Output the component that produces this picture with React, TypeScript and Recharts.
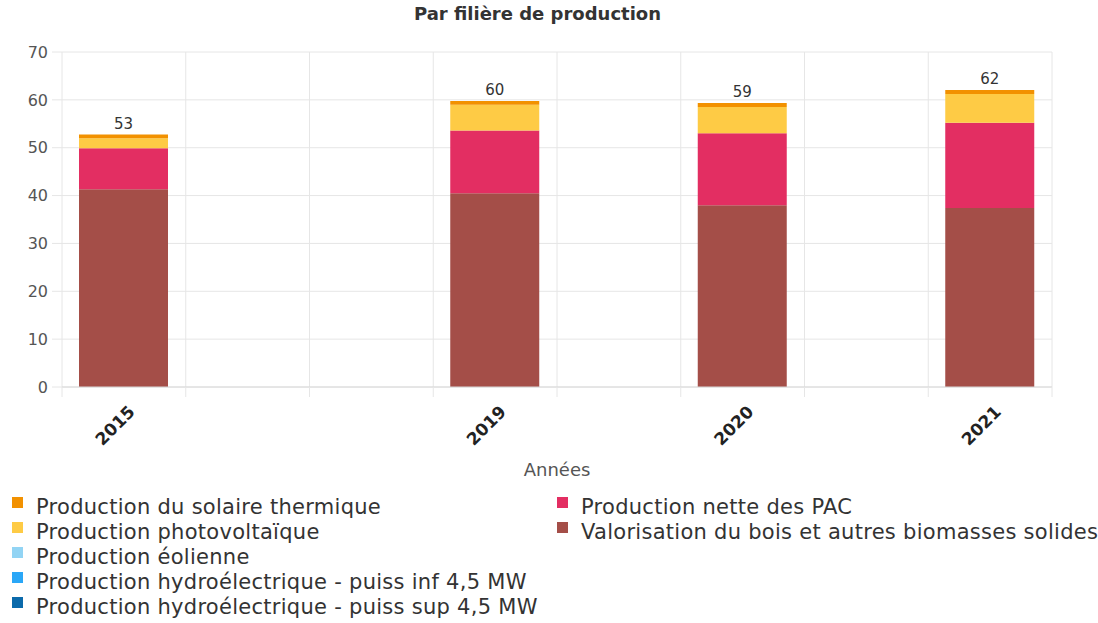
import React from 'react';
import { BarChart, Bar, XAxis, YAxis, CartesianGrid, LabelList } from 'recharts';

const categories = ['2015', '', '', '2019', '', '2020', '', '2021'];
const biomasse = [41.3, null, null, 40.5, null, 38.0, null, 37.4];
const pac = [8.6, null, null, 13.1, null, 15.0, null, 17.8];
const hydroSup = [0, null, null, 0, null, 0, null, 0];
const hydroInf = [0, null, null, 0, null, 0, null, 0];
const eolien = [0, null, null, 0, null, 0, null, 0];
const photovoltaique = [2.1, null, null, 5.4, null, 5.5, null, 6.0];
const solaireThermique = [0.75, null, null, 0.77, null, 0.84, null, 0.84];
const yTicks = [0, 10, 20, 30, 40, 50, 60, 70];

const series = [
  { key: 'biomasse', name: 'Valorisation du bois et autres biomasses solides', color: '#a44e48', values: biomasse },
  { key: 'pac', name: 'Production nette des PAC', color: '#e32e62', values: pac },
  { key: 'hydroSup', name: 'Production hydroélectrique - puiss sup 4,5 MW', color: '#0b6aab', values: hydroSup },
  { key: 'hydroInf', name: 'Production hydroélectrique - puiss inf 4,5 MW', color: '#2aa7f7', values: hydroInf },
  { key: 'eolien', name: 'Production éolienne', color: '#92d4f4', values: eolien },
  { key: 'pv', name: 'Production photovoltaïque', color: '#fecb45', values: photovoltaique },
  { key: 'thermique', name: 'Production du solaire thermique', color: '#f29100', values: solaireThermique },
];

const legendOrder = ['thermique', 'pv', 'eolien', 'hydroInf', 'hydroSup', 'pac', 'biomasse'];

const data = categories.map((c, i) => {
  const row: any = { idx: i, year: c };
  let sum = 0;
  let has = false;
  series.forEach((s) => {
    row[s.key] = s.values[i];
    if (s.values[i] != null) {
      sum += s.values[i] as number;
      has = true;
    }
  });
  row.total = has ? Math.round(sum) : null;
  return row;
});

const FONT = "'DejaVu Sans', sans-serif";
const CW = 1098;
const CH = 480;
const M = { top: 52, right: 46, left: 0, bottom: 33 };
const YW = 62;
const XH = 60;
const PLOT_W = CW - M.right - YW;
const BAND = PLOT_W / categories.length;

const XTick = (props: any) => {
  const { x, index, payload } = props;
  const label = categories[payload.value];
  const axisY = CH - M.bottom - XH;
  const left = x - BAND / 2;
  const right = x + BAND / 2;
  const tx = x + 12;
  const ty = axisY + 26;
  return (
    <g>
      <line x1={left} x2={left} y1={axisY} y2={axisY + 10} stroke="#e6e6e6" />
      {index === categories.length - 1 && (
        <line x1={right} x2={right} y1={axisY} y2={axisY + 10} stroke="#e6e6e6" />
      )}
      {label && (
        <text
          x={tx}
          y={ty}
          textAnchor="end"
          transform={`rotate(-45, ${tx}, ${ty})`}
          fontFamily={FONT}
          fontWeight="bold"
          fontSize={17}
          fill="#222"
        >
          {label}
        </text>
      )}
    </g>
  );
};

export default function App() {
  const byKey: any = {};
  series.forEach((s) => (byKey[s.key] = s));
  const col1 = legendOrder.slice(0, 5);
  const col2 = legendOrder.slice(5);
  const legendItem = (k: string, i: number, left: number) => (
    <div
      key={k}
      style={{
        position: 'absolute',
        left,
        top: 495 + 25 * i,
        height: 25,
        lineHeight: '25px',
        fontFamily: FONT,
        fontSize: 21,
        letterSpacing: 0.28,
        color: '#333',
        whiteSpace: 'nowrap',
      }}
    >
      <span
        style={{
          position: 'absolute',
          left: 0,
          top: 2,
          width: 11,
          height: 11,
          background: byKey[k].color,
        }}
      />
      <span style={{ position: 'absolute', left: 24, top: 0 }}>{byKey[k].name}</span>
    </div>
  );
  return (
    <div style={{ position: 'absolute', left: 0, top: 0, width: 1098, height: 623, background: '#fff' }}>
      <div
        style={{
          position: 'absolute',
          left: 0,
          width: 1075,
          top: 3,
          textAlign: 'center',
          fontFamily: FONT,
          fontWeight: 'bold',
          fontSize: 18,
          color: '#333',
        }}
      >
        Par filière de production
      </div>
      <BarChart width={CW} height={CH} data={data} margin={M} barSize={89}>
        <CartesianGrid
          stroke="#e6e6e6"
          verticalCoordinatesGenerator={({ offset }: any) =>
            categories
              .map((_, i) => offset.left + (i * offset.width) / categories.length)
              .concat([offset.left + offset.width])
          }
        />
        <XAxis
          dataKey="idx"
          type="category"
          height={XH}
          interval={0}
          tickLine={false}
          axisLine={{ stroke: '#d8d8d8' }}
          tick={<XTick />}
        />
        <YAxis
          width={YW}
          domain={[0, 70]}
          ticks={yTicks}
          axisLine={false}
          tickLine={{ stroke: '#e6e6e6' }}
          tickSize={10}
          tickMargin={4}
          tick={{ fontFamily: FONT, fontSize: 16, fill: '#555' }}
        />
        {series.map((s, i) => (
          <Bar key={s.key} dataKey={s.key} stackId="a" fill={s.color} isAnimationActive={false}>
            {i === series.length - 1 && (
              <LabelList
                dataKey="total"
                position="top"
                offset={6}
                style={{ fontFamily: FONT, fontSize: 15, fill: '#333' }}
              />
            )}
          </Bar>
        ))}
      </BarChart>
      <div
        style={{
          position: 'absolute',
          left: 457,
          width: 200,
          top: 459,
          textAlign: 'center',
          fontFamily: FONT,
          fontSize: 18,
          color: '#555',
        }}
      >
        Années
      </div>
      {col1.map((k, i) => legendItem(k, i, 12))}
      {col2.map((k, i) => legendItem(k, i, 557))}
    </div>
  );
}
